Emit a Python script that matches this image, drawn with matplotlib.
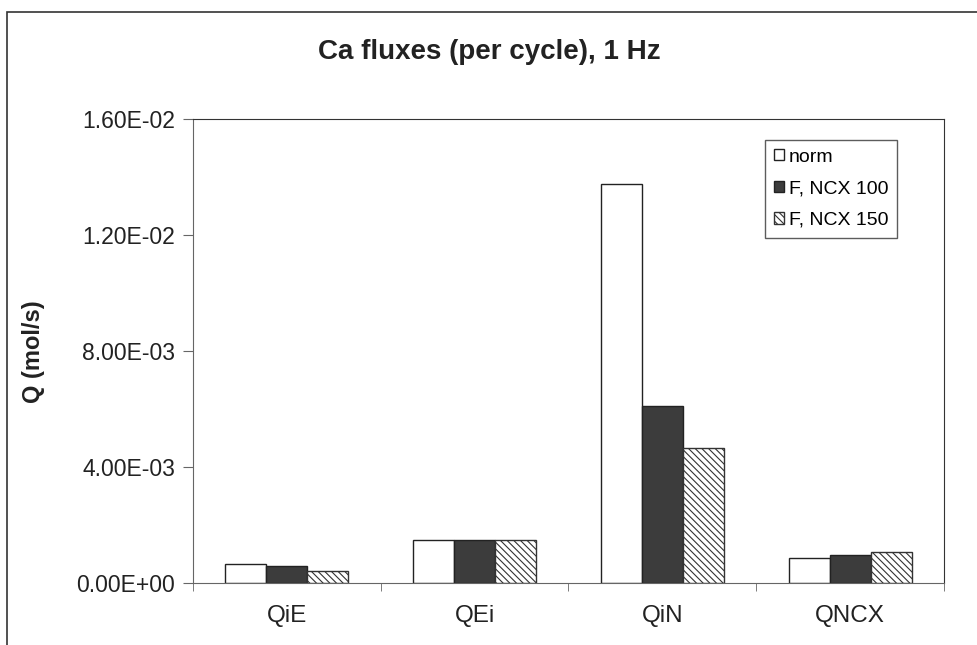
import matplotlib
matplotlib.use("Agg")
from matplotlib import pyplot as plt
from matplotlib.patches import Rectangle
import numpy as np

plt.rcParams['font.family'] = ['Liberation Sans', 'DejaVu Sans']
plt.rcParams['hatch.linewidth'] = 0.8

categories = ["QiE", "QEi", "QiN", "QNCX"]
series = ["norm", "F, NCX 100", "F, NCX 150"]
norm = [0.00066, 0.00148, 0.01376, 0.00086]
ncx100 = [0.00060, 0.00148, 0.00610, 0.00097]
ncx150 = [0.00043, 0.00148, 0.00466, 0.00107]
yticks = [0, 0.004, 0.008, 0.012, 0.016]
ytick_labels = ["0.00E+00", "4.00E-03", "8.00E-03", "1.20E-02", "1.60E-02"]

fig = plt.figure(figsize=(9.78, 6.45), dpi=100)
ax = fig.add_axes([193/978, 1-583/645, (944-193)/978, (583-119)/645])

# outer chart border (bottom/right cut off like the original)
fig.patches.append(Rectangle((7/978, -0.1), 1.1, 1-12/645+0.1, transform=fig.transFigure,
                             fill=False, edgecolor="#333333", linewidth=1.2))

x = np.arange(len(categories))
w = 0.218
styles = [dict(color="white", edgecolor="#222222"),
          dict(color="#3c3c3c", edgecolor="#222222"),
          dict(color="white", edgecolor="#333333", hatch="\\\\\\\\\\")]
for i, (vals, name) in enumerate(zip([norm, ncx100, ncx150], series)):
    ax.bar(x + (i - 1) * w, vals, w, label=name, linewidth=1, **styles[i])

ax.set_xlim(-0.5, 3.5)
ax.set_ylim(0, 0.016)
ax.set_yticks(yticks)
ax.set_yticklabels(ytick_labels, fontsize=16.5, color="#222222")
ax.set_xticks(x)
ax.set_xticklabels(categories, fontsize=17.5, color="#222222")
ax.set_xticks(np.arange(-0.5, 4.0, 1), minor=True)
ax.tick_params(axis='x', which='major', length=0, pad=16)
ax.tick_params(axis='x', which='minor', length=6, direction='out', color="#666666")
ax.tick_params(axis='y', length=7, direction='out', color="#666666", pad=6)
for s in ["top", "right"]:
    ax.spines[s].set_color("#333333")
for s in ["left", "bottom"]:
    ax.spines[s].set_color("#666666")

ax.set_ylabel("Q (mol/s)", fontsize=17, fontweight="bold", color="#222222")
ax.yaxis.set_label_coords((45-193)/(944-193), (583-352)/464)
fig.text(0.5, 1-52/645, "Ca fluxes (per cycle), 1 Hz", ha="center", va="center",
         fontsize=20, fontweight="bold", color="#222222")

leg = ax.legend(loc="upper right", fontsize=14, frameon=True, fancybox=False,
                handlelength=0.5, handleheight=0.5, handletextpad=0.25, labelspacing=0.75,
                borderpad=0.45, borderaxespad=0, edgecolor="#333333")
leg.set_bbox_to_anchor((897/978, 1-140/645), transform=fig.transFigure)
leg.get_frame().set_linewidth(1)

fig.savefig("out.png", dpi=100)
